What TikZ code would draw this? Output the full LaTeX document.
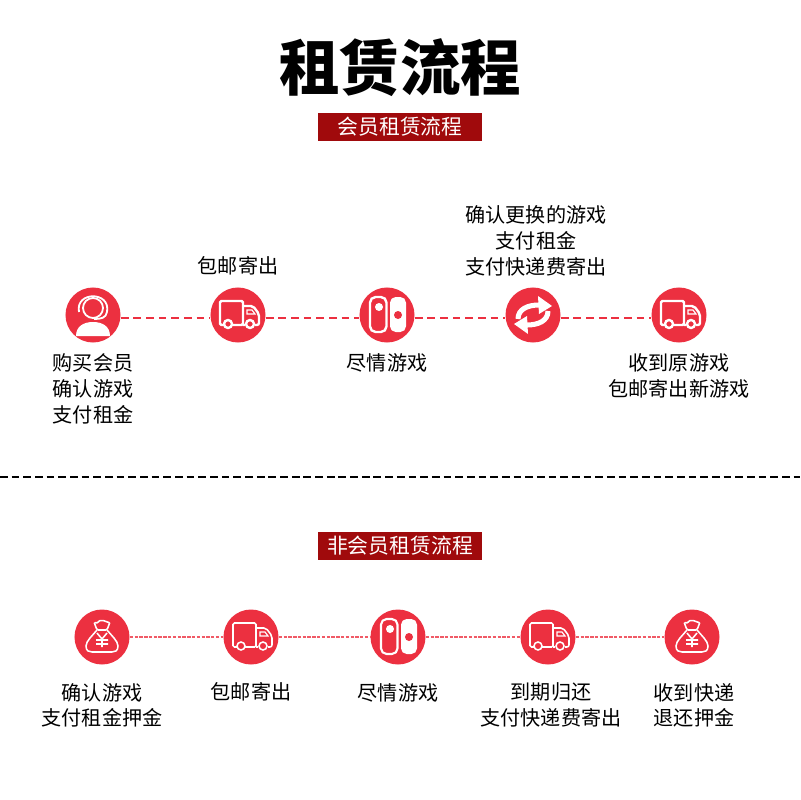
\documentclass[tikz,border=0pt]{standalone}
\usepackage{fontspec}
\setmainfont{Noto Sans CJK SC}
\definecolor{badgered}{HTML}{EC3040}
\definecolor{bannerred}{HTML}{A00A0C}
\usetikzlibrary{positioning}

\tikzset{
  pics/truck/.style={code={
    \draw[white, rounded corners=1pt] (-6,10) -- (5,10) -- (5,-14) -- (-18,-14) -- (-18,10) -- (-14,10);
    \draw[white, rounded corners=1.5pt] (5,-9) -- (15,-9) -- (21,-1) -- (21,10) -- (17,10) (5,10) -- (7,10);
    \draw[white, line width=0.8pt] (9,-5) -- (14,-5) -- (17,-1) -- (9,-1) -- cycle;
    \draw[white] (-10,9) circle (4) (12,9) circle (4);
  }},
  pics/headset/.style={code={
    \draw[white] (0,-7) circle (10);
    \draw[white] (-14,-3) .. controls (-18,-24) and (18,-24) .. (14,-3);
    \draw[white] (14,-3) .. controls (13,3) and (8,4) .. (1,4);
    \fill[white] (-17,21) .. controls (-17,11) and (-9,7) .. (0,7) .. controls (9,7) and (17,11) .. (17,21) -- cycle;
  }},
  pics/console/.style={code={
    \draw[white, rounded corners=4pt] (-0.5,-18) -- (-17,-18) -- (-17,17) -- (-0.5,17) -- cycle;
    \fill[white] (-8,-8) circle (4);
    \fill[white, rounded corners=4pt] (3,-18) -- (19,-18) -- (19,17) -- (3,17) -- cycle;
    \fill[badgered] (11,0) circle (4);
  }},
  pics/swap/.style={code={
    \foreach \ang in {0,180} {
      \begin{scope}[rotate=\ang]
        \draw[white, line width=3.6pt] (-15,4) .. controls (-15,-6) and (-5,-10) .. (6,-10);
        \fill[white] (5,-19) -- (19,-9) -- (6,-1) -- cycle;
      \end{scope}
    }
  }},
  pics/moneybag/.style={code={
    \draw[white, rounded corners=1pt] (-5,-7) -- (-8,-15) .. controls (-4,-13) and (-3,-17) .. (0,-16) .. controls (3,-17) and (5,-14) .. (8,-15) -- (5,-7) -- cycle;
    \draw[white] (-5,-7) .. controls (-9,-2) and (-16,4) .. (-16,9) .. controls (-16,14) and (-13,15) .. (-10,15) -- (10,15) .. controls (13,15) and (16,14) .. (16,9) .. controls (16,4) and (9,-2) .. (5,-7);
    \draw[white] (-5,-4) -- (0,2) -- (5,-4) (0,2) -- (0,10) (-6,3) -- (6,3) (-6,7) -- (6,7);
  }}
}

\begin{document}
\begin{tikzpicture}[
  x=0.025cm, y=-0.025cm,
  node distance=0.25cm,
  badge/.style={circle, fill=badgered, minimum size=1.375cm, inner sep=0pt},
  lbl/.style={inner sep=0pt, align=center, font=\fontsize{14.3pt}{18.3pt}\selectfont},
  tag/.style={fill=bannerred, text=white, minimum width=4.1cm, minimum height=0.7cm,
              inner sep=0pt, font=\fontsize{14.8pt}{18pt}\selectfont},
  link/.style={badgered, line width=1.4pt, dash pattern=on 5.5pt off 3.5pt},
  linkthin/.style={badgered!80, line width=0.8pt, dash pattern=on 2.4pt off 1pt}
]
\useasboundingbox (0,0) rectangle (800,800);

\node[font=\fontsize{43pt}{50pt}\selectfont\bfseries] (title) at (400,68) {租赁流程};
\node[tag] (tag1) at (400,127) {会员租赁流程};
\node[tag] (tag2) at (400,546) {非会员租赁流程};

% member row
\node[badge] (m1) at (93,315) {};
\node[badge] (m2) at (238,315) {};
\node[badge] (m3) at (387,315) {};
\node[badge] (m4) at (533,315) {};
\node[badge] (m5) at (679,315) {};

\pic[line width=1.3pt] at (m1) {headset};
\pic[line width=1.7pt] at (m2) {truck};
\pic[line width=1.7pt] at (m3) {console};
\pic at (m4) {swap};
\pic[line width=1.7pt] at (m5) {truck};

\node[lbl, below=0.275cm of m1] (t1) {购买会员\\确认游戏\\支付租金};
\node[lbl, above=0.3cm of m2] (t2) {包邮寄出};
\node[lbl, below=0.275cm of m3] (t3) {尽情游戏};
\node[lbl, above=0.275cm of m4, xshift=0.075cm] (t4) {确认更换的游戏\\支付租金\\支付快递费寄出};
\node[lbl, below=0.275cm of m5] (t5) {收到原游戏\\包邮寄出新游戏};

\draw[link] ([yshift=-0.07cm]m1.east) -- ([yshift=-0.07cm]m2.west);
\draw[link] ([yshift=-0.07cm]m2.east) -- ([yshift=-0.07cm]m3.west);
\draw[link] ([yshift=-0.07cm]m3.east) -- ([yshift=-0.07cm]m4.west);
\draw[link] ([yshift=-0.07cm]m4.east) -- ([yshift=-0.07cm]m5.west);

% divider
\coordinate (left) at (0,477);
\coordinate (right) at (800,477);
\draw[line width=1.5pt, dash pattern=on 5.5pt off 2.8pt] (left) -- (right);

% non member row
\node[badge] (n1) at (102,637) {};
\node[badge] (n2) at (251,637) {};
\node[badge] (n3) at (398,637) {};
\node[badge] (n4) at (548,637) {};
\node[badge] (n5) at (692,637) {};

\pic[line width=1.1pt] at (n1) {moneybag};
\pic[line width=1.1pt] at (n2) {truck};
\pic[line width=1.5pt] at (n3) {console};
\pic[line width=1.1pt] at (n4) {truck};
\pic[line width=1.1pt] at (n5) {moneybag};

\node[lbl, below=0.45cm of n1] (b1) {确认游戏\\支付租金押金};
\node[lbl, below=0.425cm of n2] (b2) {包邮寄出};
\node[lbl, below=0.475cm of n3] (b3) {尽情游戏};
\node[lbl, below=0.45cm of n4, xshift=0.075cm] (b4) {到期归还\\支付快递费寄出};
\node[lbl, below=0.45cm of n5, xshift=0.05cm] (b5) {收到快递\\退还押金};

\draw[linkthin] (n1) -- (n2);
\draw[linkthin] (n2) -- (n3);
\draw[linkthin] (n3) -- (n4);
\draw[linkthin] (n4) -- (n5);

\end{tikzpicture}
\end{document}
